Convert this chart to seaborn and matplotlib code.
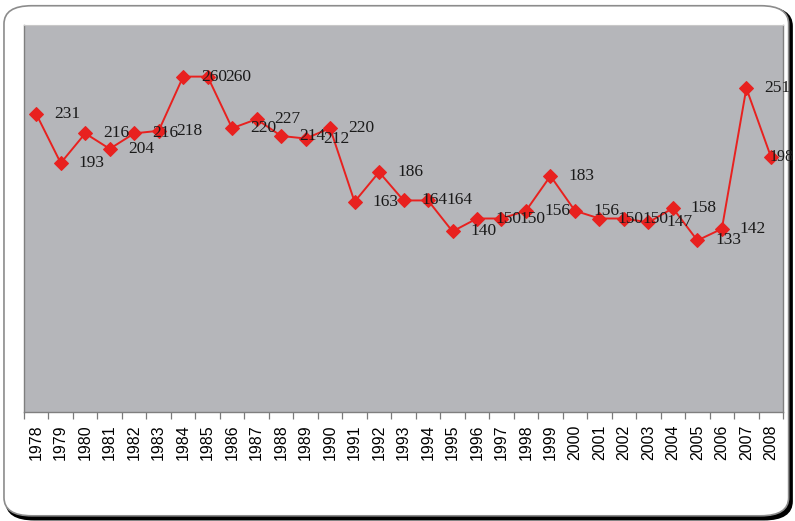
import numpy as np
import pandas as pd
import seaborn as sns
import matplotlib.pyplot as plt
from matplotlib.patches import FancyBboxPatch
from matplotlib.ticker import FixedLocator, NullFormatter

# values
years = [str(y) for y in range(1978, 2009)]
values = [231, 193, 216, 204, 216, 218, 260, 260, 220, 227,
          214, 212, 220, 163, 186, 164, 164, 140, 150, 150,
          156, 183, 156, 150, 150, 147, 158, 133, 142, 251, 198]

df = pd.DataFrame({'year': years, 'value': values})

sns.set_style('white')
plt.rcParams['font.family'] = ['Liberation Sans', 'DejaVu Sans']

fig = plt.figure(figsize=(7.95, 5.21), dpi=100)

# rounded frame with a dark shadow on bottom/right
shadow = FancyBboxPatch((0.008, 0.003), 0.988, 0.982,
                        boxstyle='round,pad=0,rounding_size=0.035',
                        transform=fig.transFigure, facecolor='black',
                        edgecolor='black', linewidth=1.5, zorder=0)
frame = FancyBboxPatch((0.005, 0.010), 0.987, 0.979,
                       boxstyle='round,pad=0,rounding_size=0.035',
                       transform=fig.transFigure, facecolor='white',
                       edgecolor='#8c8c8c', linewidth=1.2, zorder=1)
fig.patches.extend([shadow, frame])

ax = fig.add_axes([0.0302, 0.2092, 0.9548, 0.7428])
ax.set_zorder(2)
ax.set_facecolor('#b5b6ba')

sns.lineplot(data=df, x='year', y='value', ax=ax, color='#e8211f',
             linewidth=1.4, marker='D', markersize=7,
             markeredgecolor='#e8211f', sort=False)

for i, v in enumerate(values):
    last = i == len(values) - 1
    # the last label sits on its point so it stays inside the picture
    ax.annotate(str(v), (i, v), xytext=(-1 if last else 13, 0),
                textcoords='offset points', va='center', ha='left',
                fontsize=11.5 if last else 12.5,
                family=['Liberation Serif', 'DejaVu Serif'], color='#1a1a1a',
                annotation_clip=False)

ax.set_xlim(-0.5, len(years) - 0.5)
ax.set_ylim(0, 300)
ax.set_yticks([])
ax.set_xlabel('')
ax.set_ylabel('')

ax.xaxis.set_minor_locator(FixedLocator(np.arange(-0.5, len(years))))
ax.xaxis.set_minor_formatter(NullFormatter())
ax.tick_params(axis='x', which='major', length=0, pad=9, labelsize=11.5,
               rotation=90, labelcolor='black')
ax.tick_params(axis='x', which='minor', length=5, width=0.9,
               color='#7a7a7a', bottom=True)

for side in ['left', 'right', 'bottom']:
    ax.spines[side].set_color('#7f7f7f')
    ax.spines[side].set_linewidth(1.0)
ax.spines['top'].set_color('#c8c8c8')
ax.spines['top'].set_linewidth(0.8)

fig.savefig('out.png', dpi=100)
